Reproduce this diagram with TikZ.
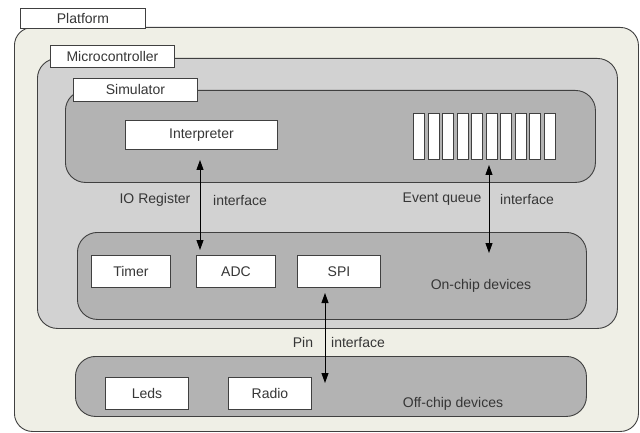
\documentclass[tikz,border=0pt]{standalone}
\usepackage{fontspec}
\setmainfont{Liberation Sans}
\usetikzlibrary{arrows.meta,calc}
\definecolor{platfill}{HTML}{EFEFE6}
\definecolor{mcufill}{HTML}{D2D2D2}
\definecolor{simfill}{HTML}{B3B3B3}
\definecolor{edge}{HTML}{404040}
\definecolor{txt}{HTML}{363636}
\begin{document}
\begin{tikzpicture}[x=1pt,y=-1pt,
  every node/.style={font=\fontsize{14}{16}\selectfont, text=txt},
  box/.style={draw=edge, line width=0.9pt, inner sep=0pt, anchor=north west},
  container/.style={box, rounded corners=20pt},
  whitebox/.style={box, fill=white},
  bar/.style={draw=edge, line width=0.9pt, fill=white, inner sep=0pt, anchor=north west, minimum width=11.3pt, minimum height=46pt},
  lbl/.style={inner sep=0pt},
  conn/.style={draw=black, line width=0.9pt, {Triangle[length=10pt,width=7pt]}-{Triangle[length=10pt,width=7pt]}}
]
\useasboundingbox (0,0) rectangle (640,433);
% containers
\node[container, rounded corners=18pt, fill=platfill, minimum width=624pt, minimum height=404pt] (platform) at (14,27) {};
\node[whitebox, minimum width=125pt, minimum height=20pt] (platformtab) at (20,8) {Platform};
\node[container, fill=mcufill, minimum width=580pt, minimum height=270pt] (mcu) at (37,58) {};
\node[whitebox, minimum width=124pt, minimum height=22pt] (mcutab) at (50,45) {Microcontroller};
\node[container, fill=simfill, minimum width=530pt, minimum height=92pt] (sim) at (65,90) {};
\node[whitebox, minimum width=124pt, minimum height=23pt] (simtab) at (73,78) {Simulator};
\node[container, fill=simfill, minimum width=509pt, minimum height=87pt] (onchip) at (77,232) {};
\node[container, fill=simfill, minimum width=511pt, minimum height=60pt] (offchip) at (75,356) {};
% simulator contents
\node[whitebox, minimum width=152pt, minimum height=29pt] (interp) at (125,120) {Interpreter};
\foreach \i in {1,...,10} {
  \node[bar] (bar\i) at ({413+(\i-1)*14.5},113) {};
}
% on-chip devices
\node[whitebox, minimum width=79pt, minimum height=32pt] (timer) at (91,255) {Timer};
\node[whitebox, minimum width=79pt, minimum height=32pt] (adc) at (196,255) {ADC};
\node[whitebox, minimum width=83pt, minimum height=32pt] (spi) at (297,255) {SPI};
\node[lbl] (onchiplbl) at (481,286) {On-chip devices};
% off-chip devices
\node[whitebox, minimum width=83pt, minimum height=32pt] (leds) at (105,377) {Leds};
\node[whitebox, minimum width=83pt, minimum height=32pt] (radio) at (228,377) {Radio};
\node[lbl] (offchiplbl) at (453,404) {Off-chip devices};
% interface labels
\node[lbl] (iolbl) at (155,200) {IO Register};
\node[lbl] (iolbl2) at (240,200) {interface};
\node[lbl] (eqlbl) at (442,199) {Event queue};
\node[lbl] (eqlbl2) at (527,199) {interface};
\node[lbl] (pinlbl) at (303,342) {Pin};
\node[lbl] (pinlbl2) at (358,342) {interface};
% connectors
\coordinate (iotop) at (200,160);
\coordinate (iobot) at (200,250);
\coordinate (eqtop) at (489,165);
\coordinate (eqbot) at (489,253);
\coordinate (pintop) at (325,293);
\coordinate (pinbot) at (325,383);
\draw[conn] (iotop) -- (iobot);
\draw[conn] (eqtop) -- (eqbot);
\draw[conn] (pintop) -- (pinbot);
\end{tikzpicture}
\end{document}
